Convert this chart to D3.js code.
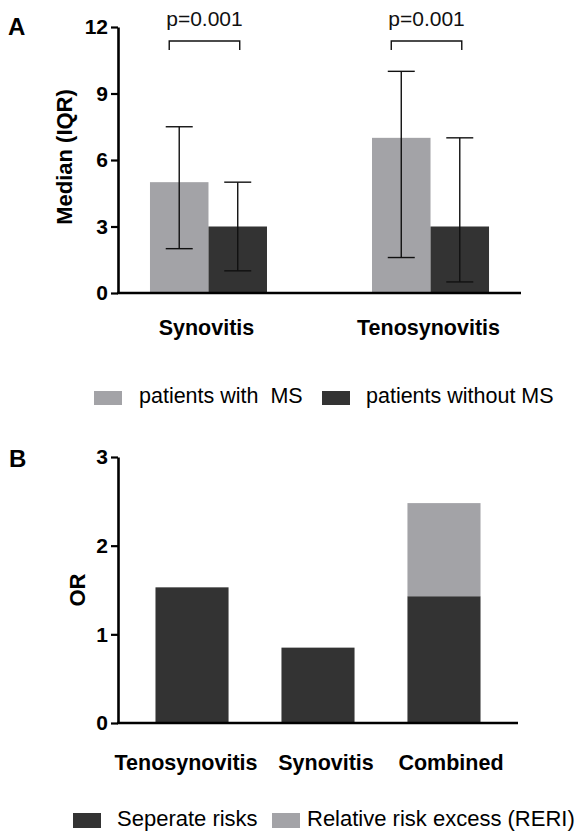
<!DOCTYPE html>
<html>
<head>
<meta charset="utf-8">
<script src="https://cdn.jsdelivr.net/npm/d3@7"></script>
<style>
  body { margin: 0; background: #fff; }
  svg { display: block; font-family: "Liberation Sans", Arial, Helvetica, sans-serif; }
  text { white-space: pre; }
</style>
</head>
<body>
<svg id="chart" width="577" height="836"></svg>
<script>
// ---------- Panel A data ----------
const groupsA = ["Synovitis", "Tenosynovitis"];
const seriesA = ["patients with  MS", "patients without MS"];
const medianWithMS = [5, 7];
const medianWithoutMS = [3, 3];
const q1WithMS = [2, 1.6];
const q3WithMS = [7.5, 10];
const q1WithoutMS = [1, 0.5];
const q3WithoutMS = [5, 7];
const pValues = ["p=0.001", "p=0.001"];
const ticksA = [0, 3, 6, 9, 12];

// ---------- Panel B data ----------
const categoriesB = ["Tenosynovitis", "Synovitis", "Combined"];
const seriesB = ["Seperate risks", "Relative risk excess (RERI)"];
const separateRisks = [1.53, 0.85, 1.43];
const reri = [0, 0, 1.05];
const ticksB = [0, 1, 2, 3];

const colLight = "#a3a3a7";
const colDark = "#333333";

const svg = d3.select("#chart");

// ================= PANEL A =================
const gA = svg.append("g");
const xA = d3.scaleBand().domain(groupsA).range([118, 521]).paddingInner(0.473).paddingOuter(0.144);
const xAin = d3.scaleBand().domain([0, 1]).range([0, xA.bandwidth()]).padding(0);
const yA = d3.scaleLinear().domain([0, 12]).range([293, 27]);

const rowsA = groupsA.map((g, i) => ({
  g,
  vals: [
    { s: 0, med: medianWithMS[i], lo: q1WithMS[i], hi: q3WithMS[i] },
    { s: 1, med: medianWithoutMS[i], lo: q1WithoutMS[i], hi: q3WithoutMS[i] }
  ],
  p: pValues[i]
}));

const grpA = gA.selectAll("g.grp").data(rowsA).join("g")
  .attr("transform", d => `translate(${xA(d.g)},0)`);

grpA.selectAll("rect").data(d => d.vals).join("rect")
  .attr("x", d => xAin(d.s))
  .attr("width", xAin.bandwidth())
  .attr("y", d => yA(d.med))
  .attr("height", d => yA(0) - yA(d.med))
  .attr("fill", d => d.s === 0 ? colLight : colDark);

// error bars
const cap = 13.5;
const eb = grpA.selectAll("g.eb").data(d => d.vals).join("g")
  .attr("stroke", "#111").attr("stroke-width", 1.4).attr("fill", "none");
eb.append("line")
  .attr("x1", d => xAin(d.s) + xAin.bandwidth() / 2)
  .attr("x2", d => xAin(d.s) + xAin.bandwidth() / 2)
  .attr("y1", d => yA(d.lo)).attr("y2", d => yA(d.hi));
eb.append("line")
  .attr("x1", d => xAin(d.s) + xAin.bandwidth() / 2 - cap)
  .attr("x2", d => xAin(d.s) + xAin.bandwidth() / 2 + cap)
  .attr("y1", d => yA(d.hi)).attr("y2", d => yA(d.hi));
eb.append("line")
  .attr("x1", d => xAin(d.s) + xAin.bandwidth() / 2 - cap)
  .attr("x2", d => xAin(d.s) + xAin.bandwidth() / 2 + cap)
  .attr("y1", d => yA(d.lo)).attr("y2", d => yA(d.lo));

// significance brackets
grpA.append("path")
  .attr("d", d => {
    const x1 = xAin(0) + xAin.bandwidth() / 2 - 10;
    const x2 = xAin(1) + xAin.bandwidth() / 2 + 2;
    return `M${x1},50V41H${x2}V50`;
  })
  .attr("fill", "none").attr("stroke", "#111").attr("stroke-width", 1.4);
grpA.append("text")
  .attr("x", d => (xAin(0) + xAin(1) + xAin.bandwidth()) / 2 - 4)
  .attr("y", 26)
  .attr("text-anchor", "middle")
  .attr("font-size", 21)
  .attr("fill", "#111")
  .text(d => d.p);

// axes A
const axA = gA.append("g").attr("transform", "translate(118,0)")
  .call(d3.axisLeft(yA).tickValues(ticksA).tickSize(7).tickSizeOuter(0).tickPadding(3));
axA.select(".domain").attr("stroke", "#000").attr("stroke-width", 2.6);
axA.selectAll(".tick line").attr("stroke", "#000").attr("stroke-width", 2.2);
axA.selectAll(".tick text").attr("font-size", 21).attr("font-weight", "bold").attr("fill", "#000")
  .attr("font-family", "Liberation Sans, Arial, sans-serif");

gA.append("line").attr("x1", 117).attr("x2", 521).attr("y1", yA(0)).attr("y2", yA(0))
  .attr("stroke", "#000").attr("stroke-width", 2.6);

gA.selectAll("text.cat").data(groupsA).join("text")
  .attr("class", "cat")
  .attr("x", d => xA(d) + xA.bandwidth() / 2 - 2)
  .attr("y", 335)
  .attr("text-anchor", "middle")
  .attr("font-size", 21.5).attr("font-weight", "bold").attr("fill", "#000")
  .text(d => d);

gA.append("text")
  .attr("transform", "translate(72,157) rotate(-90)")
  .attr("text-anchor", "middle")
  .attr("font-size", 22).attr("font-weight", "bold").attr("fill", "#000")
  .text("Median (IQR)");

gA.append("text").attr("x", 8).attr("y", 35)
  .attr("font-size", 24).attr("font-weight", "bold").attr("fill", "#000").text("A");

// legend A
const legA = [{ x: 94, tx: 139 }, { x: 322, tx: 366 }];
gA.selectAll("rect.leg").data(seriesA).join("rect")
  .attr("class", "leg")
  .attr("x", (d, i) => legA[i].x).attr("y", 391).attr("width", 28).attr("height", 14)
  .attr("fill", (d, i) => i === 0 ? colLight : colDark);
gA.selectAll("text.leg").data(seriesA).join("text")
  .attr("class", "leg")
  .attr("x", (d, i) => legA[i].tx).attr("y", 403)
  .attr("font-size", 21.5).attr("fill", "#000")
  .text(d => d);

// ================= PANEL B =================
const gB = svg.append("g");
const xB = d3.scaleBand().domain(categoriesB).range([118, 518]).paddingInner(0.42).paddingOuter(0.2975);
const yB = d3.scaleLinear().domain([0, 3]).range([723, 457]);

const rowsB = categoriesB.map((c, i) => ({ c, sep: separateRisks[i], reri: reri[i] }));

gB.selectAll("rect.sep").data(rowsB).join("rect")
  .attr("class", "sep")
  .attr("x", d => xB(d.c)).attr("width", xB.bandwidth())
  .attr("y", d => yB(d.sep)).attr("height", d => yB(0) - yB(d.sep))
  .attr("fill", colDark);
gB.selectAll("rect.reri").data(rowsB.filter(d => d.reri > 0)).join("rect")
  .attr("class", "reri")
  .attr("x", d => xB(d.c)).attr("width", xB.bandwidth())
  .attr("y", d => yB(d.sep + d.reri)).attr("height", d => yB(d.sep) - yB(d.sep + d.reri))
  .attr("fill", colLight);

const axB = gB.append("g").attr("transform", "translate(118,0)")
  .call(d3.axisLeft(yB).tickValues(ticksB).tickFormat(d3.format("d")).tickSize(7).tickSizeOuter(0).tickPadding(3));
axB.select(".domain").attr("stroke", "#000").attr("stroke-width", 2.6);
axB.selectAll(".tick line").attr("stroke", "#000").attr("stroke-width", 2.2);
axB.selectAll(".tick text").attr("font-size", 21).attr("font-weight", "bold").attr("fill", "#000")
  .attr("font-family", "Liberation Sans, Arial, sans-serif");

gB.append("line").attr("x1", 117).attr("x2", 518).attr("y1", yB(0)).attr("y2", yB(0))
  .attr("stroke", "#000").attr("stroke-width", 2.6);

const labelShiftB = [-6, 8, 7];
gB.selectAll("text.cat").data(categoriesB).join("text")
  .attr("class", "cat")
  .attr("x", (d, i) => xB(d) + xB.bandwidth() / 2 + labelShiftB[i])
  .attr("y", 770)
  .attr("text-anchor", "middle")
  .attr("font-size", 21.5).attr("font-weight", "bold").attr("fill", "#000")
  .text(d => d);

gB.append("text")
  .attr("transform", "translate(85,590) rotate(-90)")
  .attr("text-anchor", "middle")
  .attr("font-size", 22).attr("font-weight", "bold").attr("fill", "#000")
  .text("OR");

gB.append("text").attr("x", 9).attr("y", 467)
  .attr("font-size", 24).attr("font-weight", "bold").attr("fill", "#000").text("B");

// legend B
const legB = [{ x: 73, tx: 117 }, { x: 272, tx: 307 }];
gB.selectAll("rect.leg").data(seriesB).join("rect")
  .attr("class", "leg")
  .attr("x", (d, i) => legB[i].x).attr("y", 813).attr("width", 28).attr("height", 15)
  .attr("fill", (d, i) => i === 0 ? colDark : colLight);
gB.selectAll("text.leg").data(seriesB).join("text")
  .attr("class", "leg")
  .attr("x", (d, i) => legB[i].tx).attr("y", 826)
  .attr("font-size", 22).attr("fill", "#000")
  .text(d => d);
</script>
</body>
</html>
